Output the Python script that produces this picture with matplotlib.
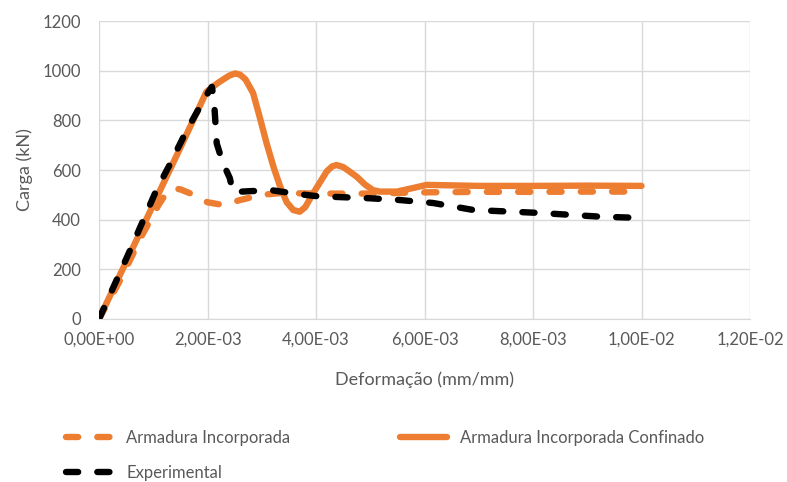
import matplotlib.pyplot as plt
import numpy as np

# strain (mm/mm) and load (kN) for each model
exp_x = [0.0, 0.0003, 0.0006, 0.0009, 0.00106, 0.0013, 0.00162, 0.0019, 0.00202,
         0.00208, 0.00212, 0.00217, 0.00228, 0.00241, 0.00247, 0.0028, 0.0032,
         0.0036, 0.0040, 0.00431, 0.0050, 0.00555, 0.00616, 0.0069, 0.00813,
         0.00924, 0.0100]
exp_y = [0, 145, 290, 440, 520, 620, 761, 870, 915,
         935, 880, 707, 630, 568, 511, 515, 518,
         505, 495, 492, 486, 479, 467, 439, 427,
         412, 407]

inc_x = [0.0, 0.0004, 0.0008, 0.0011, 0.00125, 0.00137, 0.0015, 0.00168, 0.0020,
         0.00229, 0.0026, 0.0030, 0.00334, 0.0040, 0.0050, 0.0060, 0.0070,
         0.0080, 0.0090, 0.0100]
inc_y = [0, 160, 340, 460, 510, 526, 522, 506, 470,
         459, 479, 500, 507, 505, 505, 510, 512,
         512, 513, 513]

conf_x = [0.0, 0.0005, 0.0010, 0.0015, 0.00198, 0.0022, 0.0024, 0.00251, 0.0026,
          0.0027, 0.00284, 0.00296, 0.00309, 0.00322, 0.00334, 0.00346, 0.00358,
          0.0037, 0.0038, 0.00395, 0.0041, 0.0042, 0.0043, 0.00438, 0.0045,
          0.0046, 0.00475, 0.0049, 0.00505, 0.00518, 0.00549, 0.0058, 0.00604,
          0.0070, 0.0080, 0.0090, 0.0100]
conf_y = [0, 230, 460, 690, 915, 952, 980, 989, 984,
          965, 910, 815, 707, 610, 533, 470, 439,
          432, 450, 507, 560, 595, 615, 620, 612,
          597, 573, 542, 519, 513, 513, 528, 540,
          536, 536, 537, 536]

x_ticks = [0, 0.002, 0.004, 0.006, 0.008, 0.010, 0.012]
x_labels = ['0,00E+00', '2,00E-03', '4,00E-03', '6,00E-03', '8,00E-03',
            '1,00E-02', '1,20E-02']
y_ticks = [0, 200, 400, 600, 800, 1000, 1200]

orange = '#ED7D31'
txt = '#595959'
plt.rcParams['font.family'] = ['Lato', 'DejaVu Sans']

fig = plt.figure(figsize=(7.87, 4.82), dpi=100)
ax = fig.add_axes([0.1258, 0.3382, 0.8272, 0.6182])

lw = 4.6
dash = (1.9, 3.0)
l1, = ax.plot(inc_x, inc_y, color=orange, lw=lw, dashes=dash,
              dash_capstyle='round', dash_joinstyle='round',
              label='Armadura Incorporada')
l2, = ax.plot(conf_x, conf_y, color=orange, lw=lw, solid_capstyle='round',
              solid_joinstyle='round', label='Armadura Incorporada Confinado')
l3, = ax.plot(exp_x, exp_y, color='black', lw=lw, dashes=dash,
              dash_capstyle='round', dash_joinstyle='round',
              label='Experimental')

ax.set_xlim(0, 0.012)
ax.set_ylim(0, 1200)
ax.set_xticks(x_ticks)
ax.set_xticklabels(x_labels)
ax.set_yticks(y_ticks)
ax.grid(True, color='#D9D9D9', lw=1)
ax.set_axisbelow(True)
for s in ['top', 'right', 'left']:
    ax.spines[s].set_visible(False)
ax.spines['bottom'].set_color('#D9D9D9')
ax.tick_params(length=0, labelsize=12, colors=txt)
ax.tick_params(axis='y', pad=13)
ax.tick_params(axis='x', pad=9)
ax.set_xlabel('Deformação (mm/mm)', fontsize=13, color=txt, labelpad=17)
ax.set_ylabel('Carga (kN)', fontsize=13, color=txt, labelpad=7)

# two columns, filled column-first
fig.legend([l1, l3, l2], ['Armadura Incorporada', 'Experimental',
                          'Armadura Incorporada Confinado'],
           ncol=2, loc='upper left', bbox_to_anchor=(0.065, 0.14),
           frameon=False, fontsize=12, labelcolor=txt, handlelength=2.8,
           columnspacing=6.6, labelspacing=1.15, handletextpad=0.8)

fig.savefig('out.png', dpi=100)
